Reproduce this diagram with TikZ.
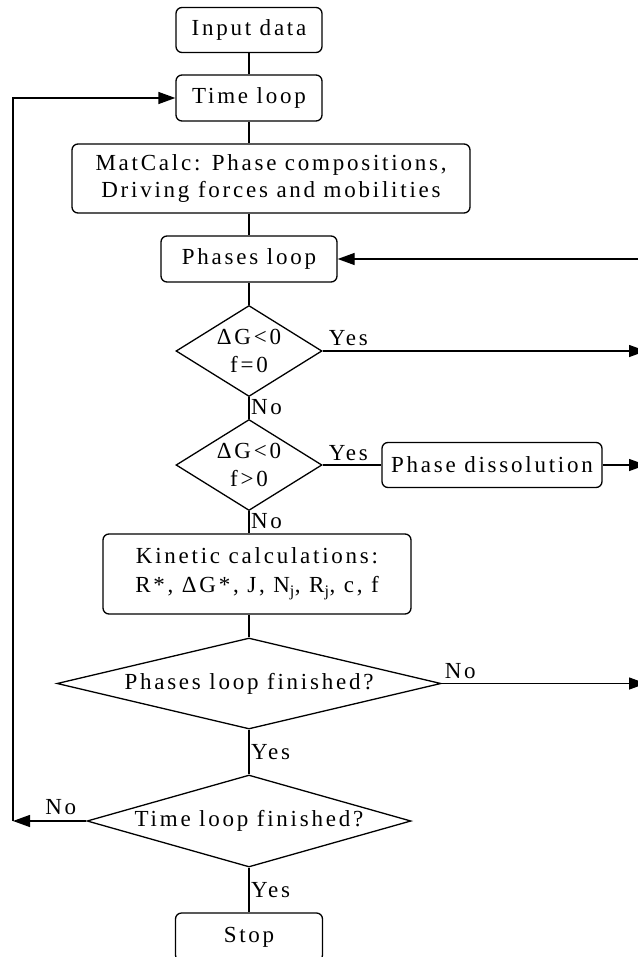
\documentclass[tikz,border=0pt]{standalone}
\usepackage{fontspec}
\setmainfont{Liberation Serif}[LetterSpace=12]
\usetikzlibrary{shapes.geometric, arrows.meta}

\begin{document}
\begin{tikzpicture}[x=1pt, y=-1pt, >={Triangle[length=17pt,width=12pt]}, line width=1.3pt,
  font=\fontsize{23}{27.5}\selectfont,
  box/.style={draw, rounded corners=6pt, align=center, inner sep=0pt},
  decision/.style={draw, diamond, align=center, inner sep=0pt},
  lbl/.style={inner sep=1.5pt}]
  \useasboundingbox (0,0) rectangle (637,957);
  \node[box, minimum width=146pt, minimum height=45pt] (input) at (249,30) {Input data};
  \node[box, minimum width=146pt, minimum height=46pt] (time) at (249,98) {Time loop};
  \node[box, minimum width=398pt, minimum height=69pt] (mat) at (271,178.5) {MatCalc: Phase compositions,\\Driving forces and mobilities};
  \node[box, minimum width=176pt, minimum height=46pt] (phases) at (249,259) {Phases loop};
  \node[decision, shape aspect=1.6, minimum width=146pt, minimum height=91pt] (dec1) at (249,351) {ΔG<0\\f=0};
  \node[decision, shape aspect=1.6, minimum width=146pt, minimum height=91pt] (dec2) at (249,465) {ΔG<0\\f>0};
  \node[box, minimum width=220pt, minimum height=45pt] (diss) at (492,465) {Phase dissolution};
  \node[box, minimum width=308pt, minimum height=80pt, font=\fontsize{23}{29}\selectfont] (kin) at (257,574) {Kinetic calculations:\\R*, ΔG*, J, N\textsubscript{j}, R\textsubscript{j}, c, f};
  \node[decision, shape aspect=4.2, minimum width=384pt, minimum height=91pt] (pfin) at (249,683.5) {Phases loop finished?};
  \node[decision, shape aspect=3.5, minimum width=324pt, minimum height=92pt] (tfin) at (249,821) {Time loop finished?};
  \node[box, minimum width=147pt, minimum height=48pt] (stop) at (249,937) {Stop};
  \coordinate (r0) at (646,259);
  \coordinate (r1) at (646,351);
  \coordinate (r2) at (646,465);
  \coordinate (r3) at (646,683.5);
  \coordinate (lc) at (13,821);
  \draw (input) -- (time);
  \draw (time.south) -- (time.south |- mat.north);
  \draw (phases.north |- mat.south) -- (phases.north);
  \draw (phases) -- (dec1);
  \draw (dec1) -- node[lbl, pos=0, anchor=north west] {No} (dec2);
  \draw (dec2.south) -- node[lbl, pos=0, anchor=north west] {No} (dec2.south |- kin.north);
  \draw (kin.south -| pfin.north) -- (pfin.north);
  \draw (pfin) -- node[lbl, right] {Yes} (tfin);
  \draw (tfin) -- node[lbl, right] {Yes} (stop);
  \draw[->] (r0) -- (phases);
  \draw[->] (dec1.east) -- node[lbl, pos=0, anchor=base west, xshift=4pt, yshift=6pt] {Yes} (r1);
  \draw (dec2.east) -- node[lbl, pos=0, anchor=base west, xshift=4pt, yshift=5pt] {Yes} (diss.west);
  \draw[->] (diss.east) -- (r2);
  \draw[->] (pfin.east) -- node[lbl, pos=0, anchor=base west, xshift=1pt, yshift=5pt] {No} (r3);
  \draw[->] (tfin.west) -- node[lbl, pos=0, anchor=base east, xshift=-8pt, yshift=7pt] {No} (lc);
  \draw[->] (lc) |- (time.west);
\end{tikzpicture}
\end{document}
